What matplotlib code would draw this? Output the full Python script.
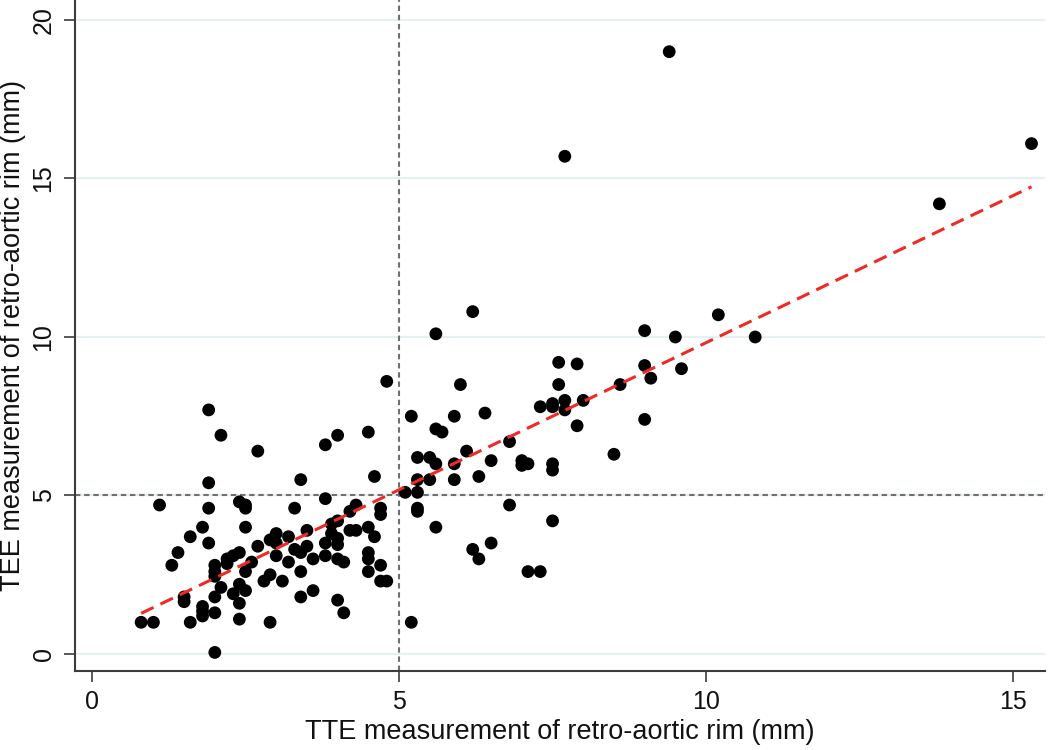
import matplotlib
matplotlib.use("Agg")
import matplotlib.pyplot as plt
import numpy as np

plt.rcParams['font.family'] = ['Liberation Sans', 'DejaVu Sans']

# TTE (x) and TEE (y) measurements of retro-aortic rim, mm
tte = [0.8, 1.0, 1.1, 1.3, 1.4, 1.5, 1.5, 1.6, 1.6, 1.8, 1.8, 1.8, 1.8,
       1.9, 1.9, 1.9, 1.9, 2.0, 2.0, 2.0, 2.0, 2.0, 2.0, 2.1, 2.1, 2.2,
       2.2, 2.3, 2.4, 2.3, 2.4, 2.4, 2.4, 2.4, 2.5, 2.5, 2.5, 2.5, 2.5,
       2.6, 2.7, 2.7, 2.8, 2.9, 2.9, 2.9, 3.0, 3.0, 3.0, 3.1, 3.2, 3.2,
       3.3, 3.3, 3.4, 3.4, 3.4, 3.4, 3.5, 3.5, 3.6, 3.6, 3.8, 3.8, 3.8,
       3.8, 3.9, 3.9, 4.0, 4.0, 4.0, 4.0, 4.0, 4.1, 4.0, 4.1, 4.2, 4.3,
       4.2, 4.3, 4.5, 4.5, 4.5, 4.5, 4.5, 4.6, 4.6, 4.7, 4.7, 4.7, 4.7,
       4.8, 4.8,
       5.1, 5.2, 5.2, 5.3, 5.3, 5.3, 5.3, 5.3, 5.5, 5.5, 5.6, 5.6, 5.7,
       5.6, 5.6, 5.9, 5.9, 5.9, 6.0, 6.1, 6.2, 6.2, 6.3, 6.3, 6.4, 6.5,
       6.5, 6.8, 6.8, 7.0, 7.0, 7.1, 7.1, 7.3, 7.3, 7.5, 7.5, 7.5, 7.5,
       7.5, 7.6, 7.6, 7.7, 7.7, 7.7, 7.9, 7.9, 8.0, 8.5, 8.6, 9.0, 9.0,
       9.0, 9.1, 9.4, 9.5, 9.6, 10.2, 10.8, 13.8, 15.3]
tee = [1.0, 1.0, 4.7, 2.8, 3.2, 1.8, 1.65, 3.7, 1.0, 4.0, 1.5, 1.35, 1.2,
       7.7, 5.4, 4.6, 3.5, 2.8, 2.6, 2.45, 1.8, 1.3, 0.05, 6.9, 2.1, 3.0,
       2.85, 3.1, 3.2, 1.9, 2.2, 1.6, 1.1, 4.8, 4.7, 4.6, 4.0, 2.6, 2.0,
       2.9, 6.4, 3.4, 2.3, 3.6, 2.5, 1.0, 3.8, 3.5, 3.1, 2.3, 3.7, 2.9,
       4.6, 3.3, 3.2, 5.5, 2.6, 1.8, 3.4, 3.9, 3.0, 2.0, 6.6, 4.9, 3.5,
       3.1, 3.8, 4.1, 4.2, 3.65, 3.45, 6.9, 3.0, 2.9, 1.7, 1.3, 4.5, 4.7,
       3.9, 3.9, 7.0, 4.0, 3.2, 3.0, 2.6, 3.7, 5.6, 4.6, 4.4, 2.8, 2.3,
       2.3, 8.6,
       5.1, 7.5, 1.0, 6.2, 5.5, 5.1, 4.6, 4.5, 6.2, 5.5, 10.1, 7.1, 7.0,
       6.0, 4.0, 7.5, 6.0, 5.5, 8.5, 6.4, 10.8, 3.3, 3.0, 5.6, 7.6, 6.1,
       3.5, 6.7, 4.7, 6.1, 5.95, 6.0, 2.6, 2.6, 7.8, 7.9, 7.8, 6.0, 5.8,
       4.2, 9.2, 8.5, 8.0, 7.7, 15.7, 9.15, 7.2, 8.0, 6.3, 8.5, 10.2, 9.1,
       7.4, 8.7, 19.0, 10.0, 9.0, 10.7, 10.0, 14.2, 16.1]

# fitted line
fit_intercept = 0.54
fit_slope = 0.928

ref_x = 5
ref_y = 5
xticks = [0, 5, 10, 15]
yticks = [0, 5, 10, 15, 20]

W, H = 1050, 750
fig = plt.figure(figsize=(W / 100, H / 100), dpi=100)
ax = fig.add_axes([75 / W, (H - 671) / H, (1045 - 75) / W, 671 / H])

ax.set_xlim(-0.277, 15.52)
ax.set_ylim(-0.536, 20.63)

spine_c = '#3c3c3c'
for s in ['top', 'right']:
    ax.spines[s].set_visible(False)
for s in ['left', 'bottom']:
    ax.spines[s].set_color(spine_c)
    ax.spines[s].set_linewidth(1.5)

ax.set_xticks(xticks)
ax.set_yticks(yticks)
ax.tick_params(axis='both', direction='out', length=8, width=1.2,
               color=spine_c, labelsize=18, labelcolor='#111111')
ax.tick_params(axis='x', pad=6)
ax.tick_params(axis='y', pad=6, labelrotation=90)
for lab in ax.get_yticklabels():
    lab.set_verticalalignment('center')

ax.yaxis.grid(True, color='#e6eff1', linewidth=1.6, zorder=0)
ax.set_axisbelow(True)

ax.axhline(ref_y, color='#707070', linestyle=(0, (2.6, 1.8)), linewidth=1.5, zorder=1)
ax.axvline(ref_x, color='#707070', linestyle=(0, (2.6, 1.8)), linewidth=1.5, zorder=1)

ax.scatter(tte, tee, s=85, color='black', edgecolors='none', zorder=3)

fx = np.array([min(tte), max(tte)])
ax.plot(fx, fit_intercept + fit_slope * fx, color='#ee2a24',
        linestyle=(0, (4.5, 2.5)), linewidth=2.2, zorder=4)

ax.set_xlabel('TTE measurement of retro-aortic rim (mm)', fontsize=19.5,
              color='#111111')
ax.set_ylabel('TEE measurement of retro-aortic rim (mm)', fontsize=19.5,
              color='#111111')
ax.xaxis.set_label_coords(0.5, -0.072)
ax.yaxis.set_label_coords(-0.05, 0.5)

fig.savefig('out.png', dpi=100, facecolor='white')
